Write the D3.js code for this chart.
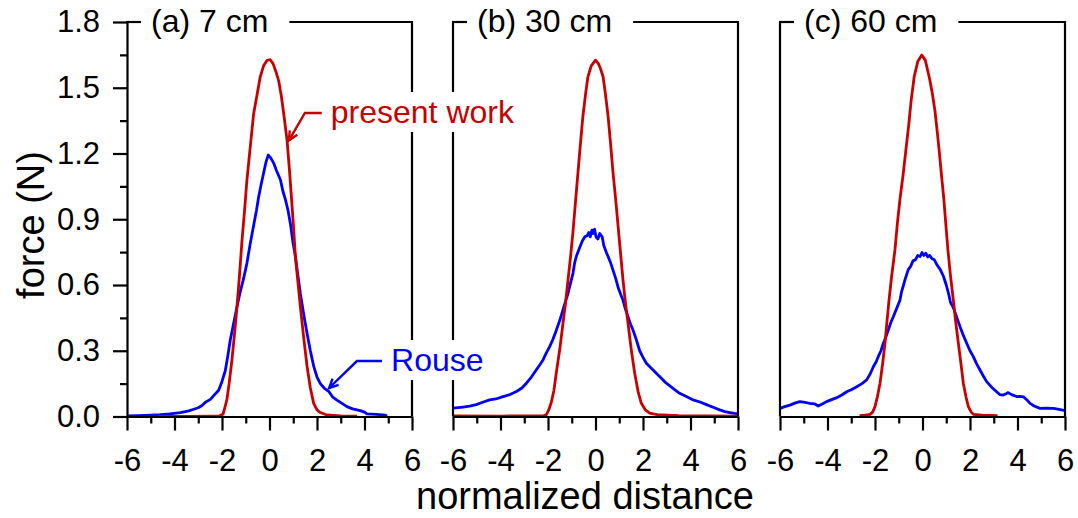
<!DOCTYPE html>
<meta charset="utf-8">
<script src="https://d3js.org/d3.v7.min.js"></script>
<title>force profiles</title>
<style>
  body { margin: 0; background: white; }
  svg text { font-family: "Liberation Sans", Arial, sans-serif; }
</style>
<body>
<div id="chart"></div>
<script>
// ---- data (normalized distance, force in N) ----
var panelTitles = ["(a) 7 cm", "(b) 30 cm", "(c) 60 cm"];
var xTicks = [-6, -4, -2, 0, 2, 4, 6];
var xMinor = [-5, -3, -1, 1, 3, 5];
var yTicks = [0, 0.3, 0.6, 0.9, 1.2, 1.5, 1.8];
var yMinor = [0.15, 0.45, 0.75, 1.05, 1.35, 1.65];

var presentA = [[-4.7,0],[-3.5,0],[-2.5,0.002],[-2.1,0.003],[-1.96,0.01],[-1.88,0.04],[-1.79,0.08],[-1.7,0.15],[-1.58,0.26],[-1.47,0.38],[-1.37,0.5],[-1.26,0.65],[-1.16,0.8],[-1.05,0.94],[-0.95,1.08],[-0.81,1.23],[-0.67,1.38],[-0.52,1.47],[-0.39,1.55],[-0.25,1.6],[-0.1,1.625],[0.03,1.628],[0.15,1.61],[0.28,1.57],[0.39,1.53],[0.5,1.46],[0.6,1.38],[0.74,1.26],[0.85,1.11],[0.95,0.96],[1.02,0.85],[1.09,0.73],[1.2,0.61],[1.3,0.5],[1.44,0.36],[1.58,0.23],[1.72,0.13],[1.86,0.06],[2.0,0.03],[2.14,0.018],[2.42,0.007],[3.0,0.003],[3.68,0.002]];
var rouseA = [[-6,0.003],[-5.5,0.004],[-5,0.006],[-4.6,0.008],[-4.2,0.012],[-3.75,0.018],[-3.4,0.026],[-3.19,0.033],[-3.0,0.04],[-2.84,0.05],[-2.7,0.065],[-2.49,0.078],[-2.35,0.095],[-2.14,0.12],[-2.0,0.16],[-1.86,0.21],[-1.75,0.28],[-1.65,0.35],[-1.5,0.43],[-1.37,0.5],[-1.23,0.57],[-1.09,0.63],[-0.95,0.7],[-0.81,0.79],[-0.67,0.87],[-0.55,0.94],[-0.46,1.0],[-0.35,1.06],[-0.25,1.11],[-0.15,1.16],[-0.05,1.193],[0.05,1.18],[0.18,1.155],[0.3,1.12],[0.46,1.08],[0.56,1.03],[0.67,0.99],[0.78,0.94],[0.88,0.88],[0.98,0.8],[1.09,0.73],[1.2,0.64],[1.3,0.56],[1.45,0.46],[1.58,0.38],[1.72,0.3],[1.86,0.23],[2.0,0.18],[2.14,0.15],[2.3,0.13],[2.49,0.115],[2.65,0.09],[2.84,0.075],[3.05,0.06],[3.26,0.045],[3.5,0.035],[3.82,0.027],[4.0,0.02],[4.1,0.012],[4.5,0.01],[4.88,0.006],[4.95,0.002]];

var presentB = [[-6,0.003],[-4,0.002],[-2.2,0.003],[-2.07,0.008],[-1.97,0.03],[-1.86,0.065],[-1.75,0.12],[-1.65,0.2],[-1.5,0.31],[-1.37,0.425],[-1.26,0.52],[-1.16,0.62],[-1.05,0.73],[-0.95,0.84],[-0.85,0.97],[-0.74,1.11],[-0.63,1.25],[-0.53,1.37],[-0.42,1.47],[-0.32,1.55],[-0.18,1.6],[0,1.626],[0.12,1.61],[0.2,1.59],[0.32,1.55],[0.42,1.47],[0.53,1.37],[0.63,1.25],[0.74,1.11],[0.85,0.99],[0.95,0.87],[1.05,0.75],[1.16,0.62],[1.26,0.52],[1.37,0.425],[1.5,0.31],[1.65,0.197],[1.8,0.11],[1.93,0.06],[2.1,0.03],[2.28,0.015],[2.6,0.008],[3.5,0.004],[6,0.002]];
var rouseB = [[-6,0.038],[-5.58,0.043],[-5.3,0.047],[-5.02,0.054],[-4.75,0.065],[-4.46,0.076],[-4.2,0.08],[-3.89,0.091],[-3.6,0.1],[-3.33,0.114],[-3.1,0.13],[-2.91,0.152],[-2.7,0.18],[-2.49,0.213],[-2.35,0.235],[-2.21,0.258],[-2.07,0.29],[-1.93,0.319],[-1.8,0.35],[-1.65,0.394],[-1.5,0.44],[-1.37,0.486],[-1.25,0.53],[-1.16,0.56],[-1.05,0.61],[-0.95,0.652],[-0.88,0.7],[-0.81,0.73],[-0.67,0.77],[-0.56,0.8],[-0.45,0.82],[-0.35,0.825],[-0.28,0.84],[-0.22,0.82],[-0.15,0.85],[-0.1,0.835],[-0.04,0.855],[0.02,0.82],[0.1,0.81],[0.18,0.835],[0.28,0.82],[0.35,0.78],[0.45,0.75],[0.53,0.73],[0.64,0.7],[0.74,0.667],[0.85,0.63],[0.95,0.59],[1.05,0.56],[1.16,0.53],[1.26,0.49],[1.37,0.455],[1.48,0.42],[1.58,0.394],[1.72,0.35],[1.86,0.3],[2.0,0.27],[2.14,0.243],[2.35,0.22],[2.56,0.197],[2.77,0.175],[2.98,0.152],[3.25,0.13],[3.54,0.106],[3.8,0.092],[4.1,0.076],[4.4,0.066],[4.67,0.054],[4.95,0.042],[5.23,0.03],[5.45,0.022],[5.65,0.018],[5.85,0.014],[6,0.012]];

var presentC = [[-2.65,0.004],[-2.4,0.006],[-2.21,0.01],[-2.1,0.02],[-2.0,0.045],[-1.9,0.09],[-1.79,0.151],[-1.68,0.24],[-1.58,0.334],[-1.5,0.43],[-1.41,0.53],[-1.3,0.64],[-1.16,0.76],[-1.05,0.89],[-0.95,0.99],[-0.82,1.1],[-0.7,1.215],[-0.58,1.33],[-0.48,1.44],[-0.35,1.55],[-0.2,1.62],[-0.03,1.649],[0.12,1.625],[0.3,1.54],[0.42,1.47],[0.53,1.39],[0.62,1.3],[0.7,1.215],[0.8,1.1],[0.9,0.99],[0.98,0.88],[1.07,0.76],[1.18,0.64],[1.3,0.53],[1.4,0.43],[1.51,0.334],[1.62,0.24],[1.72,0.151],[1.83,0.09],[1.93,0.045],[2.05,0.02],[2.14,0.01],[2.5,0.006],[3.16,0.004]];
var rouseC = [[-6,0.037],[-5.8,0.045],[-5.58,0.052],[-5.35,0.062],[-5.16,0.068],[-4.95,0.064],[-4.74,0.06],[-4.55,0.058],[-4.39,0.048],[-4.2,0.058],[-4.04,0.068],[-3.8,0.078],[-3.61,0.086],[-3.4,0.098],[-3.19,0.113],[-3.0,0.122],[-2.77,0.136],[-2.55,0.15],[-2.35,0.167],[-2.2,0.195],[-2.07,0.227],[-1.95,0.25],[-1.86,0.274],[-1.75,0.3],[-1.65,0.334],[-1.55,0.36],[-1.44,0.395],[-1.33,0.43],[-1.23,0.455],[-1.1,0.49],[-0.95,0.53],[-0.88,0.57],[-0.8,0.6],[-0.72,0.63],[-0.6,0.67],[-0.5,0.685],[-0.4,0.71],[-0.3,0.715],[-0.2,0.735],[-0.1,0.73],[-0.02,0.748],[0.06,0.735],[0.14,0.745],[0.22,0.728],[0.3,0.735],[0.4,0.72],[0.5,0.715],[0.62,0.69],[0.75,0.67],[0.88,0.64],[1.0,0.6],[1.1,0.56],[1.18,0.52],[1.26,0.505],[1.34,0.485],[1.45,0.45],[1.58,0.41],[1.72,0.37],[1.86,0.334],[2.0,0.3],[2.14,0.273],[2.28,0.24],[2.42,0.212],[2.56,0.185],[2.7,0.159],[2.9,0.135],[3.12,0.113],[3.25,0.1],[3.4,0.098],[3.52,0.104],[3.61,0.109],[3.75,0.1],[3.96,0.091],[4.1,0.092],[4.25,0.09],[4.4,0.075],[4.53,0.06],[4.7,0.048],[4.95,0.037],[5.2,0.038],[5.51,0.037],[5.75,0.032],[6,0.027]];

// annotation anchors in panel (a) data units: tip, elbow, end of leader
var presentLabel = {tip: [0.82, 1.26], elbow: [1.49, 1.385], end: [2.2, 1.385], text: "present work"};
var rouseLabel = {tip: [2.51, 0.13], elbow: [3.68, 0.253], end: [4.74, 0.253], text: "Rouse"};

var presentColor = "#c80000",
    rouseColor = "#0000ff";

// ---- layout ----
var W = 1078, H = 518;
var panelLeft = [127, 453, 780],
    panelW = 285,
    plotTop = 22,
    plotBottom = 416.5;

var svg = d3.select("#chart").append("svg")
    .attr("width", W)
    .attr("height", H);

var y = d3.scaleLinear().domain([0, 1.8]).range([plotBottom, plotTop]);

var series = [[presentA, rouseA], [presentB, rouseB], [presentC, rouseC]];
var xs = [];

panelTitles.forEach(function(title, i) {
  var x = d3.scaleLinear().domain([-6, 6]).range([panelLeft[i], panelLeft[i] + panelW]);
  xs.push(x);
  var g = svg.append("g");

  var line = d3.line()
    .x(function(d) { return x(d[0]); })
    .y(function(d) { return y(d[1]); });

  // curves
  g.append("path").datum(series[i][1])
    .attr("d", line)
    .attr("fill", "none")
    .attr("stroke", rouseColor)
    .attr("stroke-width", 2.8)
    .attr("stroke-linejoin", "round");
  g.append("path").datum(series[i][0])
    .attr("d", line)
    .attr("fill", "none")
    .attr("stroke", presentColor)
    .attr("stroke-width", 2.8)
    .attr("stroke-linejoin", "round");

  // x axis
  g.append("g")
    .attr("transform", "translate(0," + plotBottom + ")")
    .call(d3.axisBottom(x).tickValues(xTicks).tickSize(14).tickPadding(18)
      .tickSizeOuter(0).tickFormat(function(d) { return String(d); }));
  var xm = g.append("g")
    .attr("transform", "translate(0," + plotBottom + ")")
    .call(d3.axisBottom(x).tickValues(xMinor).tickSize(7).tickFormat(""));
  xm.select(".domain").remove();

  // left axis
  if (i === 0) {
    g.append("g")
      .attr("transform", "translate(" + x(-6) + ",0)")
      .call(d3.axisLeft(y).tickValues(yTicks).tickSize(14).tickPadding(13)
        .tickSizeOuter(0).tickFormat(d3.format(".1f")));
    var ym = g.append("g")
      .attr("transform", "translate(" + x(-6) + ",0)")
      .call(d3.axisLeft(y).tickValues(yMinor).tickSize(7).tickFormat(""));
    ym.select(".domain").remove();
  } else {
    g.append("line")
      .attr("x1", x(-6)).attr("x2", x(-6))
      .attr("y1", plotTop).attr("y2", plotBottom)
      .attr("stroke", "black").attr("stroke-width", 2.2);
  }

  // right border
  g.append("line")
    .attr("x1", x(6)).attr("x2", x(6))
    .attr("y1", plotTop - 1).attr("y2", plotBottom)
    .attr("stroke", "black").attr("stroke-width", 2.2);

  // title sitting in a gap of the top border
  var tx = x(-6) + 24;
  var t = g.append("text")
    .attr("x", tx)
    .attr("y", plotTop + 10)
    .style("font-size", "32px")
    .text(title);
  var tw = t.node().getComputedTextLength();
  g.append("line")
    .attr("x1", x(-6) - 1).attr("x2", tx - 10)
    .attr("y1", plotTop).attr("y2", plotTop)
    .attr("stroke", "black").attr("stroke-width", 2.2);
  g.append("line")
    .attr("x1", tx + tw + 21).attr("x2", x(6) + 1)
    .attr("y1", plotTop).attr("y2", plotTop)
    .attr("stroke", "black").attr("stroke-width", 2.2);
});

svg.selectAll(".domain, .tick line")
  .attr("stroke", "black")
  .attr("stroke-width", 2.2);
svg.selectAll(".tick text")
  .attr("fill", "black")
  .style("font-size", "31px")
  .style("font-family", "'Liberation Sans', Arial, sans-serif");

// axis titles
svg.append("text")
  .attr("transform", "translate(44,225) rotate(-90)")
  .attr("text-anchor", "middle")
  .style("font-size", "38px")
  .text("force (N)");
svg.append("text")
  .attr("x", 585)
  .attr("y", 509)
  .attr("text-anchor", "middle")
  .style("font-size", "38px")
  .text("normalized distance");

// annotations with leader arrows (panel a coordinates)
function annotate(lab, color) {
  var x = xs[0];
  var tip = [x(lab.tip[0]), y(lab.tip[1])],
      elbow = [x(lab.elbow[0]), y(lab.elbow[1])],
      end = [x(lab.end[0]), y(lab.end[1])];
  var tx = end[0] + 9, base = end[1] + 10;
  var t = svg.append("text")
    .attr("x", tx).attr("y", base)
    .attr("fill", color)
    .style("font-size", "32px")
    .text(lab.text);
  var w = t.node().getComputedTextLength();
  svg.insert("rect", function() { return t.node(); })
    .attr("x", tx - 4).attr("y", base - 31)
    .attr("width", w + 8).attr("height", 40)
    .attr("fill", "white");
  svg.append("path")
    .attr("d", d3.line()([end, elbow, tip]))
    .attr("fill", "none")
    .attr("stroke", color)
    .attr("stroke-width", 2.4);
  // open arrow head
  var ang = Math.atan2(elbow[1] - tip[1], elbow[0] - tip[0]);
  var L = 10, s = 0.45;
  var p1 = [tip[0] + L * Math.cos(ang - s), tip[1] + L * Math.sin(ang - s)],
      p2 = [tip[0] + L * Math.cos(ang + s), tip[1] + L * Math.sin(ang + s)];
  svg.append("path")
    .attr("d", d3.line()([p1, tip, p2]))
    .attr("fill", "none")
    .attr("stroke", color)
    .attr("stroke-width", 2.4);
}
annotate(presentLabel, presentColor);
annotate(rouseLabel, rouseColor);
</script>
</body>
